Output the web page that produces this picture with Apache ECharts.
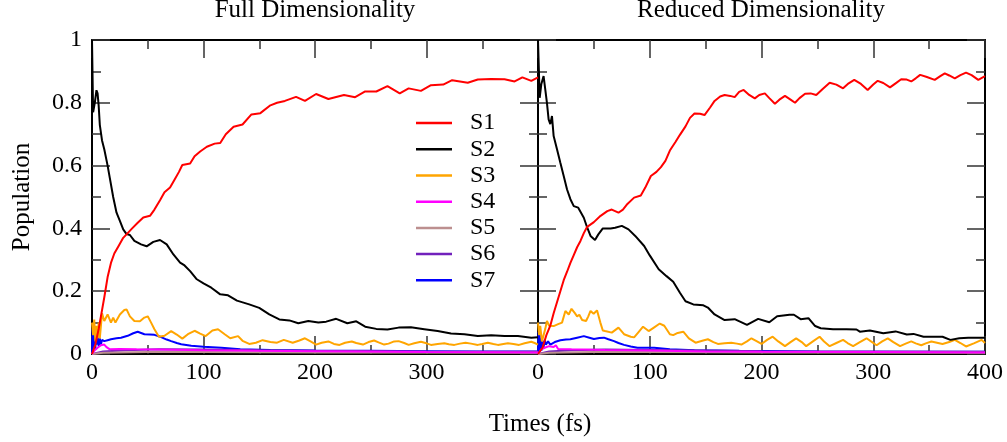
<!DOCTYPE html>
<html>
<head>
<meta charset="utf-8">
<script src="https://cdn.jsdelivr.net/npm/echarts@6/dist/echarts.min.js"></script>
<style>html,body{margin:0;padding:0;background:#fff}#chart{width:1007px;height:442px}</style>
</head>
<body>
<div id="chart"></div>
<script>
// ---- Data: [time (fs), population] ----
const stateNames = ['S1','S2','S3','S4','S5','S6','S7'];
const stateColors = ['#ff0000','#000000','#ffa500','#ff00ff','#bc8f8f','#7221bc','#0000ff'];
const panelTitles = ['Full Dimensionality','Reduced Dimensionality'];

const fullS1 = [[0,0],[3,0.03],[6,0.08],[8,0.12],[11,0.18],[14,0.245],[17,0.29],[20,0.32],[24,0.345],[28,0.37],[32,0.385],[36,0.40],[41,0.418],[46,0.435],[52,0.44],[56,0.46],[61,0.49],[65,0.515],[70,0.53],[74,0.555],[78,0.58],[81,0.602],[88,0.607],[92,0.63],[97,0.645],[103,0.66],[110,0.67],[115,0.672],[120,0.70],[127,0.724],[135,0.731],[143,0.763],[151,0.767],[160,0.792],[166,0.80],[173,0.806],[183,0.819],[191,0.806],[201,0.828],[212,0.812],[226,0.825],[236,0.818],[245,0.836],[255,0.836],[265,0.853],[276,0.830],[284,0.846],[295,0.838],[304,0.856],[315,0.858],[323,0.872],[337,0.864],[346,0.874],[358,0.876],[370,0.875],[379,0.868],[386,0.881],[394,0.870],[400,0.881]];
const fullS2 = [[0,1.0],[1,0.77],[2.5,0.80],[4,0.84],[5,0.83],[6,0.79],[7,0.73],[9,0.68],[11,0.652],[12,0.657],[14,0.60],[16,0.56],[19,0.50],[22,0.45],[25,0.424],[28,0.397],[31,0.382],[34,0.379],[38,0.36],[44,0.349],[49,0.343],[55,0.357],[61,0.363],[67,0.349],[73,0.317],[79,0.291],[83,0.282],[88,0.264],[94,0.238],[100,0.225],[107,0.211],[115,0.19],[122,0.187],[130,0.17],[141,0.158],[150,0.147],[159,0.126],[168,0.11],[177,0.107],[185,0.098],[194,0.105],[203,0.100],[210,0.103],[219,0.112],[229,0.098],[237,0.104],[245,0.087],[255,0.080],[265,0.078],[275,0.084],[286,0.085],[298,0.079],[310,0.073],[322,0.065],[334,0.063],[346,0.057],[358,0.060],[370,0.057],[382,0.057],[394,0.052],[400,0.053]];
const fullS3 = [[0,0.10],[1,0.06],[2,0.11],[3,0.04],[4,0.09],[5,0.05],[6,0.10],[7,0.05],[9,0.13],[11,0.105],[14,0.126],[17,0.10],[19,0.116],[21,0.10],[25,0.126],[29,0.14],[31,0.142],[34,0.12],[38,0.105],[43,0.104],[47,0.116],[50,0.12],[53,0.10],[56,0.079],[60,0.055],[65,0.058],[71,0.073],[76,0.062],[81,0.049],[86,0.063],[92,0.074],[97,0.065],[102,0.057],[108,0.075],[113,0.079],[119,0.063],[124,0.05],[131,0.057],[135,0.042],[141,0.032],[147,0.036],[153,0.044],[160,0.038],[166,0.036],[172,0.045],[180,0.036],[186,0.043],[191,0.05],[196,0.04],[201,0.03],[206,0.036],[212,0.04],[217,0.032],[222,0.029],[227,0.036],[233,0.04],[237,0.035],[243,0.03],[248,0.038],[253,0.043],[257,0.037],[262,0.03],[266,0.033],[271,0.04],[275,0.041],[280,0.035],[284,0.029],[289,0.034],[295,0.039],[300,0.034],[304,0.029],[310,0.032],[316,0.034],[320,0.031],[325,0.029],[330,0.033],[335,0.036],[340,0.033],[346,0.029],[350,0.032],[355,0.036],[360,0.032],[364,0.029],[369,0.032],[373,0.034],[378,0.032],[383,0.029],[388,0.034],[394,0.039],[397,0.035],[400,0.03]];
const fullS4 = [[0,0],[2,0.01],[5,0.02],[8,0.028],[11,0.03],[13,0.022],[16,0.015],[25,0.016],[40,0.015],[60,0.014],[100,0.012],[150,0.010],[200,0.009],[300,0.006],[400,0.005]];
const fullS5 = [[0,0],[10,0.004],[50,0.006],[100,0.006],[200,0.005],[400,0.004]];
const fullS6 = [[0,0],[10,0.008],[30,0.012],[60,0.015],[100,0.014],[150,0.012],[200,0.010],[300,0.008],[400,0.007]];
const fullS7 = [[0,0],[0.5,0.08],[1,0.01],[1.5,0.07],[2,0.02],[2.5,0.06],[3,0.015],[3.5,0.06],[4,0.03],[5,0.055],[6,0.025],[7,0.05],[8,0.03],[9,0.045],[11,0.041],[14,0.044],[17,0.047],[22,0.05],[26,0.052],[32,0.058],[37,0.066],[41,0.071],[47,0.063],[52,0.062],[56,0.061],[62,0.054],[67,0.046],[71,0.041],[76,0.035],[80,0.031],[89,0.026],[100,0.023],[116,0.02],[133,0.015],[160,0.013],[200,0.011],[250,0.010],[300,0.009],[350,0.008],[400,0.008]];

const redS1 = [[0,0],[4,0.02],[7.5,0.06],[11,0.09],[14,0.13],[17,0.165],[20,0.20],[23,0.235],[26,0.262],[29,0.29],[32,0.315],[35,0.34],[38,0.36],[41,0.385],[44,0.405],[50,0.42],[56,0.44],[62,0.455],[66,0.46],[72,0.45],[76,0.46],[80,0.478],[86,0.498],[92,0.505],[96,0.53],[101,0.567],[106,0.58],[110,0.595],[114,0.615],[118,0.648],[123,0.675],[127,0.698],[132,0.725],[136,0.752],[140,0.766],[145,0.765],[149,0.761],[154,0.785],[158,0.806],[163,0.82],[167,0.825],[172,0.822],[176,0.818],[180,0.835],[184,0.841],[189,0.825],[194,0.814],[198,0.825],[203,0.83],[207,0.815],[212,0.797],[216,0.81],[221,0.822],[226,0.81],[230,0.80],[234,0.815],[239,0.829],[244,0.83],[249,0.825],[255,0.845],[261,0.864],[267,0.858],[273,0.846],[278,0.862],[283,0.873],[289,0.86],[295,0.841],[300,0.858],[304,0.87],[309,0.863],[315,0.849],[320,0.862],[325,0.875],[330,0.874],[334,0.868],[338,0.878],[342,0.889],[348,0.882],[355,0.873],[360,0.885],[364,0.894],[368,0.887],[373,0.878],[378,0.888],[383,0.896],[388,0.888],[394,0.873],[400,0.885]];
const redS2 = [[0,1.0],[1.5,0.816],[3,0.86],[5,0.885],[6.5,0.843],[8,0.80],[9.5,0.747],[11,0.732],[12.5,0.758],[14,0.694],[17,0.652],[20,0.609],[23,0.567],[26,0.524],[29,0.493],[32,0.471],[36,0.466],[41,0.434],[44,0.403],[47,0.376],[51,0.363],[54,0.381],[58,0.40],[65,0.40],[69,0.402],[75,0.408],[81,0.397],[87,0.376],[95,0.344],[100,0.314],[108,0.27],[115,0.248],[121,0.23],[127,0.195],[132,0.168],[139,0.158],[148,0.155],[152,0.148],[158,0.126],[167,0.108],[176,0.111],[187,0.093],[197,0.112],[207,0.101],[214,0.12],[225,0.125],[229,0.125],[235,0.111],[242,0.114],[248,0.089],[253,0.082],[264,0.079],[276,0.079],[285,0.078],[288,0.071],[297,0.075],[309,0.066],[320,0.072],[330,0.062],[336,0.064],[345,0.055],[351,0.055],[362,0.055],[369,0.045],[377,0.05],[385,0.052],[398,0.052],[400,0.052]];
const redS3 = [[0,0.10],[1,0.06],[2,0.09],[3.5,0.04],[5,0.045],[6.5,0.08],[8,0.105],[10,0.09],[11,0.084],[14,0.089],[18,0.095],[21.5,0.10],[24.5,0.137],[27.5,0.126],[30,0.144],[33,0.13],[35,0.12],[37,0.125],[39.5,0.108],[43,0.105],[45,0.12],[47,0.137],[49.8,0.128],[52.8,0.139],[55.8,0.10],[58,0.075],[60,0.073],[66,0.068],[72,0.084],[77,0.063],[83,0.055],[86,0.053],[90,0.07],[94,0.087],[99,0.073],[104,0.085],[109,0.097],[113,0.09],[118,0.063],[121,0.06],[125,0.067],[130,0.071],[135,0.05],[141,0.036],[147,0.042],[152,0.047],[157,0.038],[161,0.032],[167,0.034],[173,0.036],[178,0.033],[182,0.03],[187,0.04],[191,0.05],[196,0.04],[200,0.032],[205,0.045],[210,0.055],[215,0.04],[221,0.025],[226,0.038],[231,0.05],[236,0.038],[240,0.025],[246,0.04],[252,0.055],[256,0.04],[261,0.025],[267,0.035],[273,0.045],[277,0.035],[282,0.025],[288,0.038],[294,0.05],[298,0.04],[303,0.028],[308,0.04],[313,0.05],[318,0.038],[324,0.025],[329,0.033],[334,0.04],[338,0.034],[343,0.028],[347,0.034],[352,0.04],[357,0.036],[362,0.032],[368,0.038],[373,0.045],[378,0.035],[383,0.024],[390,0.034],[397,0.045],[400,0.035]];
const redS4 = [[0,0],[3,0.015],[6,0.02],[10,0.025],[14,0.022],[16,0.028],[18,0.016],[30,0.015],[60,0.013],[100,0.011],[150,0.008],[200,0.007],[300,0.006],[400,0.005]];
const redS5 = [[0,0],[10,0.004],[50,0.006],[100,0.006],[200,0.005],[400,0.004]];
const redS6 = [[0,0],[10,0.008],[30,0.012],[60,0.014],[100,0.013],[150,0.011],[200,0.009],[300,0.008],[400,0.007]];
const redS7 = [[0,0],[0.5,0.07],[1,0.005],[1.5,0.06],[2,0.015],[2.5,0.05],[3,0.01],[4,0.04],[5,0.02],[6,0.045],[7,0.03],[9,0.04],[11,0.03],[15,0.038],[20,0.044],[25,0.046],[29,0.047],[35,0.052],[41,0.057],[46,0.052],[50,0.048],[55,0.051],[59,0.052],[63,0.047],[68,0.041],[72,0.035],[77,0.029],[83,0.024],[89,0.02],[104,0.02],[118,0.015],[140,0.012],[180,0.010],[250,0.008],[320,0.007],[400,0.007]];

const fullData = [fullS1, fullS2, fullS3, fullS4, fullS5, fullS6, fullS7];
const redData = [redS1, redS2, redS3, redS4, redS5, redS6, redS7];

// ---- Chart ----
const FONT = "'Liberation Serif', 'Times New Roman', serif";
const tickColor = '#333';
function xAx(gridIndex, pos, showLabels, showMax) {
  return {
    type: 'value', gridIndex, position: pos, min: 0, max: 400, interval: 100,
    axisLine: {show: true, onZero: false, lineStyle: {color: '#000', width: 2}},
    axisTick: {show: true, inside: true, length: 18, lineStyle: {color: tickColor, width: 1.5}},
    minorTick: {show: true, splitNumber: 2, length: 9, lineStyle: {color: tickColor, width: 1.5}},
    axisLabel: {show: showLabels, showMaxLabel: showMax, margin: 7, color: '#000', fontFamily: FONT, fontSize: 24},
    splitLine: {show: false}
  };
}
function yAx(gridIndex, pos, showLabels, name) {
  return {
    type: 'value', gridIndex, position: pos, min: 0, max: 1, interval: 0.2,
    name: name || '', nameLocation: 'middle', nameGap: 57,
    nameTextStyle: {color: '#000', fontFamily: FONT, fontSize: 25},
    axisLine: {show: true, onZero: false, lineStyle: {color: '#000', width: 2}},
    axisTick: {show: true, inside: true, length: 18, lineStyle: {color: tickColor, width: 1.5}},
    minorTick: {show: true, splitNumber: 2, length: 9, lineStyle: {color: tickColor, width: 1.5}},
    axisLabel: {show: showLabels, margin: 10, color: '#000', fontFamily: FONT, fontSize: 24},
    splitLine: {show: false}
  };
}

const series = [];
[fullData, redData].forEach((panel, p) => {
  panel.forEach((d, i) => {
    series.push({
      name: stateNames[i], type: 'line', xAxisIndex: p * 2, yAxisIndex: p * 2,
      data: d, showSymbol: false, symbol: 'none', clip: true,
      lineStyle: {color: stateColors[i], width: 2},
      itemStyle: {color: stateColors[i]},
      z: 10 - i
    });
  });
});

const titleStyle = {fontFamily: FONT, fontSize: 25, fontWeight: 'normal', color: '#000'};
const chart = echarts.init(document.getElementById('chart'), null, {renderer: 'canvas'});
chart.setOption({
  animation: false,
  backgroundColor: '#fff',
  title: [
    {text: panelTitles[0], left: 315, top: -2, textAlign: 'center', padding: 0, textStyle: titleStyle},
    {text: panelTitles[1], left: 761, top: -2, textAlign: 'center', padding: 0, textStyle: titleStyle},
    {text: 'Times (fs)', left: 540, top: 412, textAlign: 'center', padding: 0, textStyle: titleStyle}
  ],
  legend: {
    data: stateNames, orient: 'vertical', left: 416, top: 110, padding: 0, itemGap: 0,
    itemWidth: 36, itemHeight: 2.5, icon: 'rect',
    textStyle: {fontFamily: FONT, fontSize: 24, color: '#000', lineHeight: 26.2, padding: [0, 0, 0, 13]}
  },
  grid: [
    {left: 92, right: 469, top: 40, bottom: 88},
    {left: 538, right: 22, top: 40, bottom: 88}
  ],
  xAxis: [
    xAx(0, 'bottom', true, false), xAx(0, 'top', false, false),
    xAx(1, 'bottom', true, true), xAx(1, 'top', false, false)
  ],
  yAxis: [
    yAx(0, 'left', true, 'Population'), yAx(0, 'right', false),
    yAx(1, 'left', false), yAx(1, 'right', false)
  ],
  series
});
</script>
</body>
</html>
